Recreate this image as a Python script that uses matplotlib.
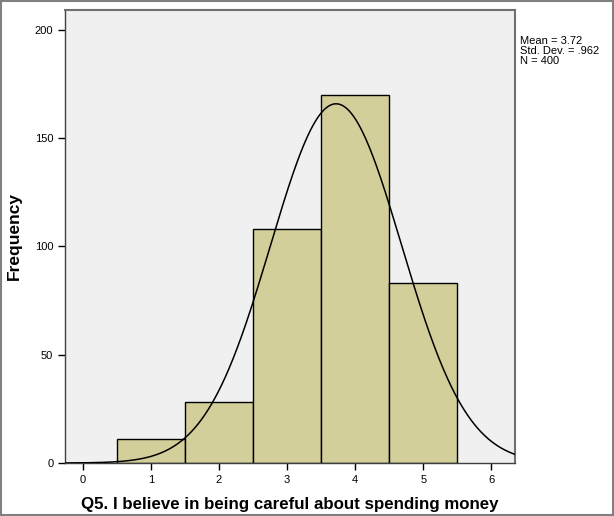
import numpy as np
import matplotlib.pyplot as plt
from matplotlib.patches import Rectangle

plt.rcParams['font.family'] = ['Liberation Sans', 'DejaVu Sans']

# ======================================================
# Data
# ======================================================
categories = [1, 2, 3, 4, 5]
counts = [11, 28, 108, 170, 83]
mean = 3.72
std = 0.962
n = 400
x_ticks = [0, 1, 2, 3, 4, 5, 6]
y_ticks = [0, 50, 100, 150, 200]

# ======================================================
# Figure
# ======================================================
fig = plt.figure(figsize=(6.14, 5.16), dpi=100)
fig.patches.append(Rectangle((0.002, 0.002), 0.996, 0.996, transform=fig.transFigure,
                             fill=False, edgecolor='#808080', linewidth=1.5))

ax = fig.add_axes([0.106, 0.1027, 0.733, 0.878])
ax.set_facecolor('#F0F0F0')

ax.bar(categories, counts, width=1.0, color='#D3CF9B', edgecolor='black', linewidth=1.0, zorder=2)

# normal curve scaled to counts (bin width 1)
xs = np.linspace(-0.26, 6.35, 400)
ys = n / (std * np.sqrt(2 * np.pi)) * np.exp(-0.5 * ((xs - mean) / std) ** 2)
ax.plot(xs, ys, color='black', linewidth=1.1, zorder=3)

ax.set_xlim(-0.26, 6.35)
ax.set_ylim(0, 209.2)
ax.set_xticks(x_ticks)
ax.set_yticks(y_ticks)
ax.tick_params(labelsize=8, length=5, width=1, colors='black')

for side in ['top', 'right']:
    ax.spines[side].set_color('#707070')
    ax.spines[side].set_linewidth(1.5)
for side in ['left', 'bottom']:
    ax.spines[side].set_color('#404040')
    ax.spines[side].set_linewidth(1.0)

ax.set_xlabel('Q5. I believe in being careful about spending money',
              fontsize=12.2, fontweight='bold', labelpad=9)
ax.set_ylabel('Frequency', fontsize=12.5, fontweight='bold', labelpad=9)

fig.text(0.847, 0.93, f'Mean = {mean:.2f}\nStd. Dev. = .962\nN = {n}',
         fontsize=8, va='top', ha='left', linespacing=1.0)

plt.savefig('out.png', dpi=100)
plt.close()
